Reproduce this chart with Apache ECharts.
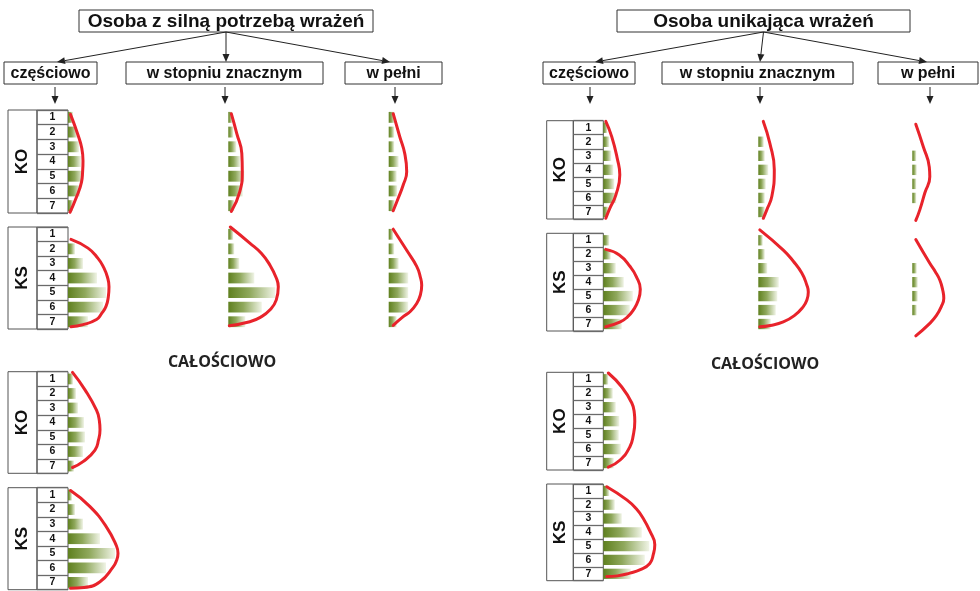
<!DOCTYPE html>
<html><head><meta charset="utf-8">
<script src="https://cdn.jsdelivr.net/npm/echarts@6/dist/echarts.min.js"></script>
<style>html,body{margin:0;padding:0;background:#fff}#c{width:980px;height:591px}</style>
</head><body><div id="c"></div>
<script>
// ---------- text ----------
const rowLabels = ['1','2','3','4','5','6','7'];
const headTitles = ['Osoba z silną potrzebą wrażeń', 'Osoba unikająca wrażeń'];
const subTitles = ['częściowo', 'w stopniu znacznym', 'w pełni'];
const groupLabels = ['KO', 'KS'];
const overallLabel = 'CAŁOŚCIOWO';

// ---------- bar values (rows 1..7) ----------
const barsHighPartKO = [5, 9, 11, 13, 15, 12, 5];
const barsHighPartKS = [0, 7, 15, 29, 38, 35, 20];
const barsHighMidKO  = [4, 5, 8, 12, 16, 14.5, 6];
const barsHighMidKS  = [5, 6, 11, 26, 47, 33.5, 17];
const barsHighFullKO = [6, 5.5, 5.5, 10, 8, 8.5, 6];
const barsHighFullKS = [4.5, 5.5, 10, 19.5, 19.5, 19.5, 8];
const barsHighAllKO  = [5, 8, 10, 16, 17, 15, 6];
const barsHighAllKS  = [4, 7, 15, 32, 47, 38, 20];
const barsAvoidPartKO = [4, 6, 8, 10, 11, 13, 5];
const barsAvoidPartKS = [6, 7.5, 12.5, 20.5, 29.5, 26.5, 18.5];
const barsAvoidMidKO  = [0, 5.5, 6.5, 10, 7.5, 6.5, 6.5];
const barsAvoidMidKS  = [4.5, 6.5, 9, 20.5, 19, 17.5, 12.5];
const barsAvoidFullKO = [0, 0, 4, 4.5, 4, 4, 0];
const barsAvoidFullKS = [0, 0, 4.5, 5.5, 5.5, 4.5, 0];
const barsAvoidAllKO  = [5, 9.5, 12.5, 16, 15.5, 17.5, 10.5];
const barsAvoidAllKS  = [6, 11.5, 18.5, 38.5, 46, 41.5, 27.5];

// ---------- fitted curves: [value, row position] ----------
const curveHighPartKO = [[2.5,0.8],[10,2.2],[13.8,3.1],[15,3.95],[14.6,4.7],[13.5,5.4],[8,6.5],[2,7.45]];
const curveHighPartKS = [[3,1.35],[20,1.95],[30,2.65],[35.5,3.25],[39.5,3.95],[41,4.6],[40.3,5.3],[38,5.95],[33.5,6.45],[28.5,6.85],[15,7.2],[3,7.35]];
const curveHighMidKO  = [[3,0.75],[8.5,2.1],[13.5,3.45],[14,4.7],[11.5,6.05],[3,7.4]];
const curveHighMidKS  = [[2,0.5],[21.5,1.6],[33,2.3],[41.5,3.1],[48,4.0],[50,4.6],[48,5.5],[41.5,6.2],[32,6.7],[21.5,7.0],[1,7.27]];
const curveHighFullKO = [[4.5,0.75],[11,2.3],[16,3.45],[18,4.7],[14.5,5.6],[9.5,6.5],[4.5,7.35]];
const curveHighFullKS = [[4.5,0.65],[18,2.1],[28,3.2],[31.5,3.9],[33,4.5],[31.5,5.2],[28,5.75],[21.5,6.3],[14.5,6.65],[4.5,7.25]];
const curveHighAllKO  = [[4.5,0.55],[17,1.75],[28.5,3.15],[31.3,3.85],[32,4.5],[30.5,5.2],[27,5.9],[15,6.7],[4.5,7.1]];
const curveHighAllKS  = [[2.5,0.7],[22,1.8],[38.5,3.2],[48.5,4.5],[50,5.0],[48.5,5.5],[45,5.95],[32,6.95],[16,7.35],[2.5,7.4]];
const curveAvoidPartKO = [[2.5,0.55],[8.5,1.65],[14,3.2],[16.5,4.35],[12.5,5.8],[6.5,6.75],[2.5,7.45]];
const curveAvoidPartKS = [[2.5,1.65],[16,2.05],[27,2.9],[33,3.6],[37,4.5],[35,5.3],[30,6.0],[24,6.5],[17,6.85],[2.5,7.2]];
const curveAvoidMidKO  = [[5,0.55],[11.5,2.1],[16,4.0],[13.5,5.9],[8.5,6.85],[5,7.45]];
const curveAvoidMidKS  = [[1.5,0.25],[25,1.7],[35,2.5],[43.5,3.35],[48.5,4.2],[50,4.7],[48.5,5.3],[45,5.75],[36,6.4],[25,6.85],[12,7.1],[1.5,7.2]];
const curveAvoidFullKO = [[3.5,0.75],[11,2.35],[17,3.8],[17.5,4.5],[12.5,5.65],[7.5,6.85],[3.5,7.6]];
const curveAvoidFullKS = [[3.5,0.95],[17.5,2.65],[23,3.25],[27.5,3.85],[30.5,4.6],[31.5,5.15],[29,5.75],[24,6.4],[17.5,6.95],[3.5,7.85]];
const curveAvoidAllKO  = [[5,0.55],[18.5,1.55],[28.5,2.7],[31,3.4],[31.5,4.0],[30,5.0],[26.5,5.85],[16.5,6.8],[5,7.3]];
const curveAvoidAllKS  = [[3.5,0.7],[23.5,1.65],[33,2.3],[40,3.0],[46.5,3.9],[51.5,4.9],[50,5.6],[46.5,6.25],[37,6.7],[26.5,6.95],[14,7.15],[3.5,7.2]];

// ---------- layout ----------
const FONT = '"Liberation Sans", Arial, sans-serif';
const L = {x:{part:68, mid:228.3, full:388.7}, KO:[110,213], KS:[227,329], allKO:[371.7,473.3], allKS:[487.7,589.7], table:[8,37,68]};
const R = {x:{part:603.3, mid:758.3, full:912.3}, KO:[120.7,219], KS:[233.3,331], allKO:[372.3,470], allKS:[484,580.7], table:[546.7,573.3,603.3]};

const panels = [
  {bars:barsHighPartKO, curve:curveHighPartKO, x:L.x.part, rows:L.KO, table:L.table, label:groupLabels[0]},
  {bars:barsHighPartKS, curve:curveHighPartKS, x:L.x.part, rows:L.KS, table:L.table, label:groupLabels[1]},
  {bars:barsHighMidKO,  curve:curveHighMidKO,  x:L.x.mid,  rows:L.KO},
  {bars:barsHighMidKS,  curve:curveHighMidKS,  x:L.x.mid,  rows:L.KS},
  {bars:barsHighFullKO, curve:curveHighFullKO, x:L.x.full, rows:L.KO},
  {bars:barsHighFullKS, curve:curveHighFullKS, x:L.x.full, rows:L.KS},
  {bars:barsHighAllKO,  curve:curveHighAllKO,  x:L.x.part, rows:L.allKO, table:L.table, label:groupLabels[0]},
  {bars:barsHighAllKS,  curve:curveHighAllKS,  x:L.x.part, rows:L.allKS, table:L.table, label:groupLabels[1]},
  {bars:barsAvoidPartKO, curve:curveAvoidPartKO, x:R.x.part, rows:R.KO, table:R.table, label:groupLabels[0]},
  {bars:barsAvoidPartKS, curve:curveAvoidPartKS, x:R.x.part, rows:R.KS, table:R.table, label:groupLabels[1]},
  {bars:barsAvoidMidKO,  curve:curveAvoidMidKO,  x:R.x.mid,  rows:R.KO},
  {bars:barsAvoidMidKS,  curve:curveAvoidMidKS,  x:R.x.mid,  rows:R.KS},
  {bars:barsAvoidFullKO, curve:curveAvoidFullKO, x:R.x.full, rows:R.KO},
  {bars:barsAvoidFullKS, curve:curveAvoidFullKS, x:R.x.full, rows:R.KS},
  {bars:barsAvoidAllKO,  curve:curveAvoidAllKO,  x:R.x.part, rows:R.allKO, table:R.table, label:groupLabels[0]},
  {bars:barsAvoidAllKS,  curve:curveAvoidAllKS,  x:R.x.part, rows:R.allKS, table:R.table, label:groupLabels[1]}
];

const chart = echarts.init(document.getElementById('c'), null, {renderer:'canvas'});
const green = new echarts.graphic.LinearGradient(0,0,1,0,[
  {offset:0, color:'#5f801f'}, {offset:0.45, color:'#8fa85c'}, {offset:1, color:'#f0f4e6'}]);

const option = {animation:false, backgroundColor:'#fff', grid:[], xAxis:[], yAxis:[], series:[], graphic:[]};
const G = option.graphic;

panels.forEach(p => {
  const gi = option.grid.length;
  const h = p.rows[1] - p.rows[0];
  option.grid.push({left:p.x, top:p.rows[0], width:60, height:h, show:false});
  option.xAxis.push({type:'value', gridIndex:gi, min:0, max:60, show:false});
  const yc = option.yAxis.length;
  option.yAxis.push({type:'category', gridIndex:gi, data:rowLabels, inverse:true, show:false});
  option.yAxis.push({type:'value', gridIndex:gi, min:0.5, max:7.5, inverse:true, show:false});
  option.series.push({type:'bar', xAxisIndex:gi, yAxisIndex:yc, data:p.bars, barWidth:'74%',
    itemStyle:{color:green}, silent:true});
  option.series.push({type:'line', xAxisIndex:gi, yAxisIndex:yc+1, data:p.curve, smooth:0.5,
    symbol:'none', clip:false, lineStyle:{color:'#e8232b', width:3, cap:'round', join:'round'}, z:5, silent:true});
  if (p.table) {
    const t = p.table;
    const gt = option.grid.length;
    option.grid.push({left:t[1], top:p.rows[0], width:t[2]-t[1], height:h, show:true,
      borderColor:'#555', borderWidth:1, backgroundColor:'#fff'});
    option.xAxis.push({type:'value', gridIndex:gt, min:0, max:1, show:false});
    option.yAxis.push({type:'category', gridIndex:gt, data:rowLabels, inverse:true,
      axisLine:{show:false}, axisTick:{show:false, interval:0},
      splitLine:{show:true, interval:0, lineStyle:{color:'#6a6a6a', width:1.3}},
      axisLabel:{inside:true, interval:0, hideOverlap:false, margin:(t[2]-t[1])/2, align:'center', fontWeight:'bold',
        fontSize:10.5, color:'#111', fontFamily:FONT}});
    const gl = option.grid.length;
    option.grid.push({left:t[0], top:p.rows[0], width:t[1]-t[0], height:h, show:true,
      borderColor:'#555', borderWidth:1});
    option.xAxis.push({type:'value', gridIndex:gl, min:0, max:1, show:false});
    option.yAxis.push({type:'value', gridIndex:gl, min:0, max:1, show:false});
    G.push({type:'text', x:(t[0]+t[1])/2, y:(p.rows[0]+p.rows[1])/2, rotation:Math.PI/2, z:10,
      style:{text:p.label, font:'bold 17px ' + FONT, fill:'#111', textAlign:'center',
        textVerticalAlign:'middle', verticalAlign:'middle'}});
  }
});

// ---------- header boxes and arrows ----------
function box(x0, y0, x1, y1, text, size) {
  G.push({type:'rect', shape:{x:x0, y:y0, width:x1-x0, height:y1-y0}, z:10,
    style:{fill:'#fff', stroke:'#333', lineWidth:1}});
  G.push({type:'text', x:(x0+x1)/2, y:(y0+y1)/2 + 0.5, z:11,
    style:{text:text, font:'bold ' + size + 'px ' + FONT, fill:'#111', textAlign:'center',
      textVerticalAlign:'middle', verticalAlign:'middle'}});
}
function arrow(x1, y1, x2, y2) {
  const a = Math.atan2(y2-y1, x2-x1), len = 8, w = 3.5;
  const bx = x2 - len*Math.cos(a), by = y2 - len*Math.sin(a);
  G.push({type:'line', shape:{x1:x1, y1:y1, x2:bx, y2:by}, z:10, style:{stroke:'#222', lineWidth:1}});
  G.push({type:'polygon', z:10, shape:{points:[[x2,y2],[bx + w*Math.sin(a), by - w*Math.cos(a)],
    [bx - w*Math.sin(a), by + w*Math.cos(a)]]}, style:{fill:'#222'}});
}

const sides = [
  {title:[79,373], center:226, subs:[[4,97],[126,323],[345,442]], tips:[57,226,390], downs:[55,225,395], overall:[222,362]},
  {title:[617,910], center:763.5, subs:[[543,635],[662,853],[878,978]], tips:[595,760,927], downs:[590,760,930], overall:[765,364]}
];
sides.forEach((s, i) => {
  box(s.title[0], 10, s.title[1], 32, headTitles[i], 19);
  s.subs.forEach((b, j) => box(b[0], 62, b[1], 84, subTitles[j], 16));
  s.tips.forEach(x => arrow(s.center, 32, x, 62));
  s.downs.forEach(x => arrow(x, 87, x, 104));
  G.push({type:'text', x:s.overall[0], y:s.overall[1], z:10,
    style:{text:overallLabel, font:'bold 16px "Open Sans", sans-serif', fill:'#222', textAlign:'center',
      textVerticalAlign:'middle', verticalAlign:'middle'}});
});

chart.setOption(option);
</script></body></html>
